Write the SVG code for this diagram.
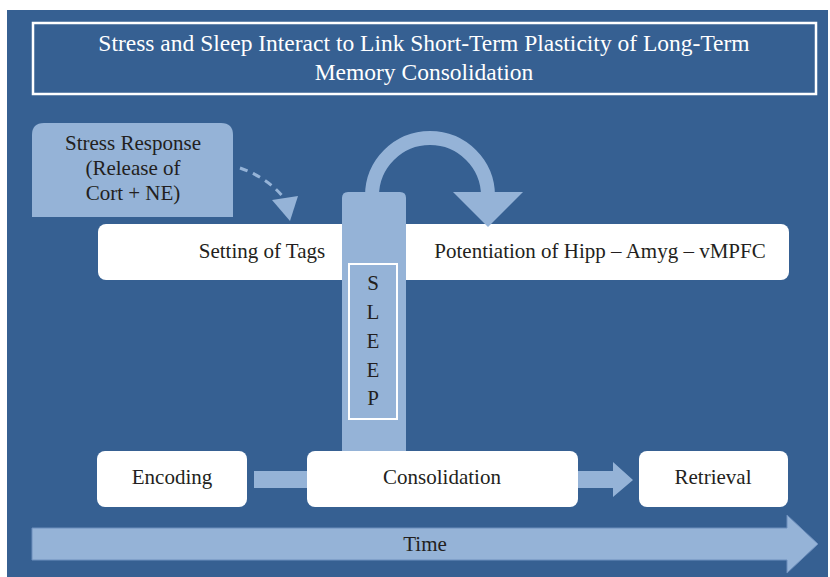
<svg xmlns="http://www.w3.org/2000/svg" width="830" height="577" viewBox="0 0 830 577">
<style>
.t{font-family:"Liberation Serif","DejaVu Serif",serif;font-size:21px;fill:#231f20;text-anchor:middle}
.h{font-size:23.5px;fill:#fff}
.w{fill:#fff}
.lb{fill:#95b3d7}
</style>
<rect x="0" y="0" width="830" height="577" fill="#fff"/>
<rect x="7" y="10" width="821" height="567" fill="#366092"/>
<g id="title">
<rect x="33" y="23" width="783" height="71" fill="none" stroke="#fff" stroke-width="2.5"/>
<text class="t h" x="424" y="51">Stress and Sleep Interact to Link Short-Term Plasticity of Long-Term</text>
<text class="t h" x="424" y="80">Memory Consolidation</text>
</g>
<g id="stress">
<path class="lb" d="M32 217 V135 Q32 123 44 123 H221 Q233 123 233 135 V217 Z"/>
<text class="t" x="133" y="150">Stress Response</text>
<text class="t" x="133" y="175">(Release of</text>
<text class="t" x="133" y="200">Cort + NE)</text>
</g>
<g id="tags">
<rect class="w" x="98" y="224" width="691" height="56" rx="8"/>
<text class="t" x="262" y="258">Setting of Tags</text>
<text class="t" x="600" y="258">Potentiation of Hipp – Amyg – vMPFC</text>
</g>
<g id="connectors">
<path d="M240 168 Q268 178 284 198" fill="none" stroke="#95b3d7" stroke-width="3" stroke-dasharray="8 6"/>
<polygon class="lb" points="272,200 298,196 290,221"/>
<path d="M372 196 A58 58 0 0 1 488 196" fill="none" stroke="#95b3d7" stroke-width="14"/>
<polygon class="lb" points="453,192 523,192 488,227"/>
<rect class="lb" x="254" y="471" width="54" height="17"/>
<polygon class="lb" points="577,471 613,471 613,462 633,480 613,497 613,488 577,488"/>
<polygon class="lb" stroke="#6d8fbd" stroke-width="1" points="32,528 787,528 787,515 818,544 787,573 787,560 32,560"/>
<text class="t" x="425" y="551">Time</text>
</g>
<g id="sleep">
<path class="lb" d="M342 452 V198 Q342 192 348 192 H400 Q406 192 406 198 V452 Z"/>
<rect x="349" y="264" width="48" height="155" fill="none" stroke="#fff" stroke-width="2"/>
<text class="t" x="373" y="290">S</text>
<text class="t" x="373" y="319">L</text>
<text class="t" x="373" y="348">E</text>
<text class="t" x="373" y="377">E</text>
<text class="t" x="373" y="405">P</text>
</g>
<g id="encoding">
<rect class="w" x="97" y="451" width="150" height="56" rx="8"/>
<text class="t" x="172" y="484">Encoding</text>
</g>
<g id="consolidation">
<rect class="w" x="307" y="451" width="271" height="56" rx="8"/>
<text class="t" x="442" y="484">Consolidation</text>
</g>
<g id="retrieval">
<rect class="w" x="639" y="451" width="149" height="56" rx="8"/>
<text class="t" x="713" y="484">Retrieval</text>
</g>
</svg>
